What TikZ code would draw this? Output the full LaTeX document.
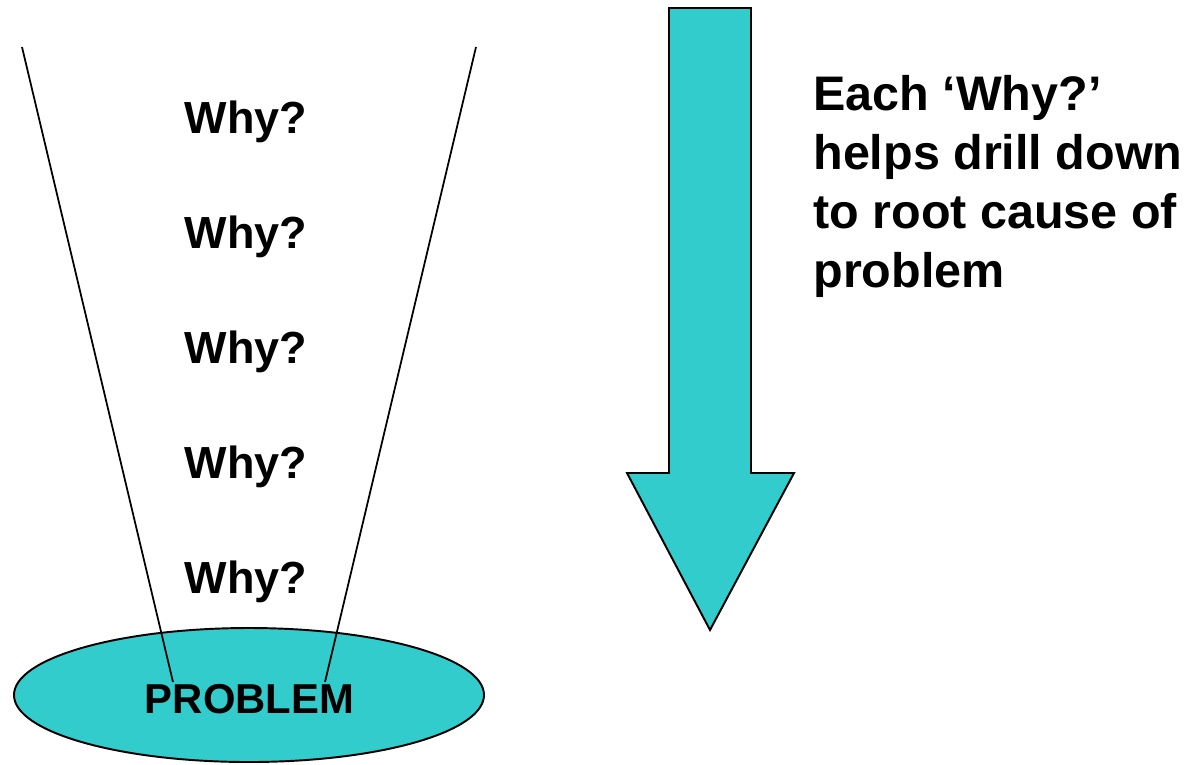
\documentclass[tikz,border=0pt]{standalone}
\usepackage{fontspec}
\setmainfont{Liberation Sans}
\usepackage{tikz}
\usetikzlibrary{shapes,calc,positioning}
\definecolor{tealfill}{RGB}{51,204,204}
\tikzset{
	funnel/.style = {draw=black, line width=1pt},
	why/.style = {anchor=base, inner sep=0pt, font=\fontsize{25.6}{30}\selectfont\bfseries},
	prob/.style = {ellipse, draw=black, line width=1.1pt, fill=tealfill,
     minimum width=9.4cm, minimum height=2.68cm, inner sep=0pt},
    bigarrow/.style = {draw=black, line width=1.1pt, fill=tealfill, line join=miter},
}

\begin{document}
\begin{tikzpicture}[x=0.2mm,y=-0.2mm]
    \useasboundingbox (0,0) rectangle (1190,764);
    \node[prob] (problem) at (249,695) {};
    \coordinate (lt) at (22,47);
    \coordinate (lb) at (173,682);
    \coordinate (rt) at (476,47);
    \coordinate (rb) at (325,682);
    \draw[funnel] (lt) -- (lb);
    \draw[funnel] (rt) -- (rb);
    \node[anchor=base, inner sep=0pt, font=\fontsize{23.8}{28}\selectfont\bfseries]
    (ptext) at (249.5,713) {PROBLEM};
    \foreach \i in {0,...,4}
      \node[why] (why\i) at (246,133+115*\i) {Why?};
    % arrow
    \draw[bigarrow] (669,8) -- (751,8) -- (751,473) -- (794,473)
      -- (710,630) -- (627,473) -- (669,473) -- cycle;
    \node[anchor=base west, inner sep=0pt, align=left,
      font=\fontsize{27.6}{33.4}\selectfont\bfseries]
    (note) at (813,287) {Each ‘Why?’\\helps drill down\\to root cause of\\problem};
\end{tikzpicture}
\end{document}
